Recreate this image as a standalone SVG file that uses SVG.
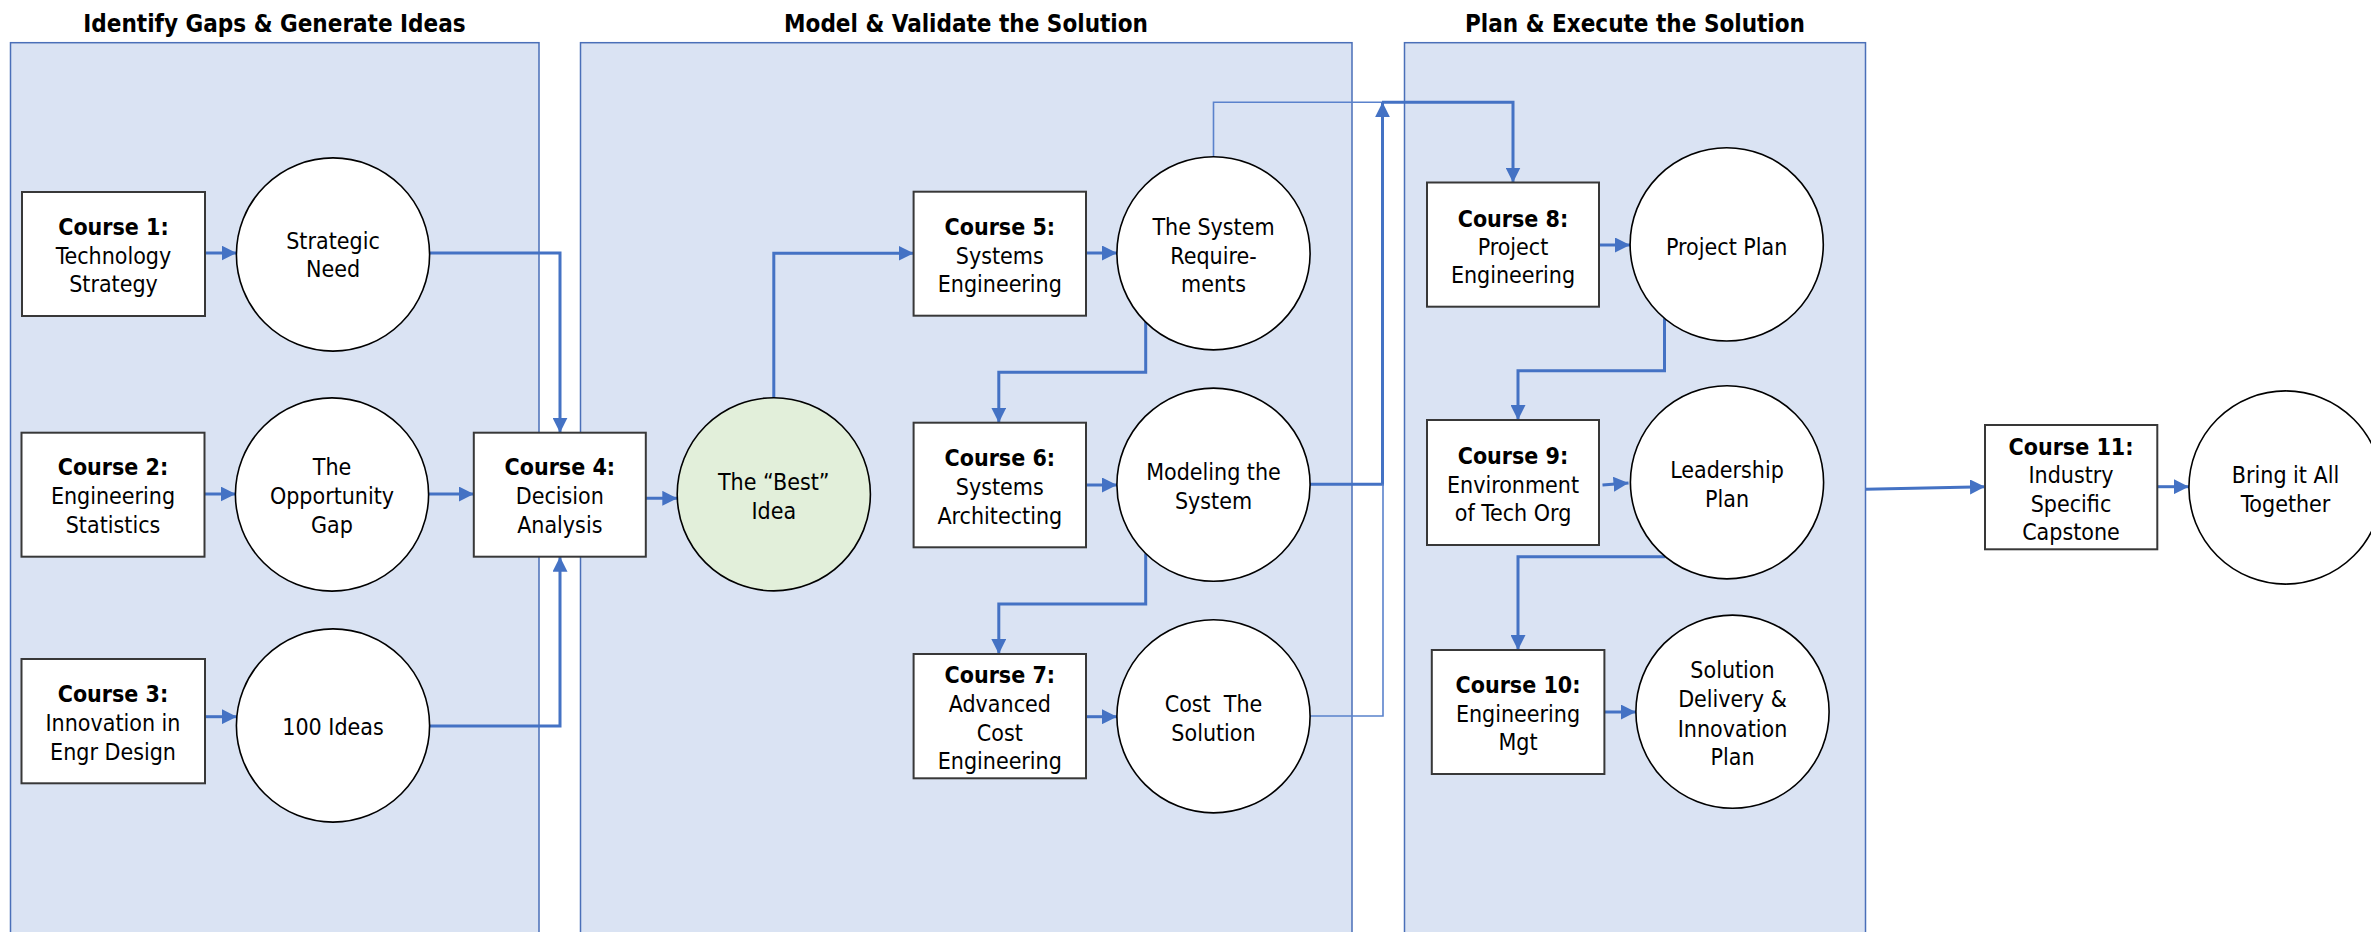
<svg xmlns="http://www.w3.org/2000/svg" width="2371" height="932" viewBox="0 0 2371 932">
<style>
  text { font-family: "DejaVu Sans Condensed", "DejaVu Sans", sans-serif; font-stretch: condensed; font-size: 23px; fill: #000; text-anchor: middle; }
  .title { font-size: 24px; font-weight: bold; }
  .b { font-weight: bold; }
  .panel { fill: #DAE3F3; stroke: #4a6fb8; stroke-width: 1.5; }
  .box { fill: #fff; stroke: #383838; stroke-width: 2; }
  .circ { fill: #fff; stroke: #000; stroke-width: 1.6; }
  .best { fill: #E2EFDA; stroke: #000; stroke-width: 1.6; }
  .c { fill: none; stroke: #4472C4; stroke-width: 3; }
  .thin { fill: none; stroke: #5a82cc; stroke-width: 1.6; }
</style>
<defs>
  <marker id="ah" markerUnits="userSpaceOnUse" markerWidth="15" markerHeight="15" refX="15" refY="7.5" orient="auto">
    <path d="M0,0 L15,7.5 L0,15 z" fill="#4472C4"/>
  </marker>
</defs>
<rect width="2371" height="932" fill="#fff"/>

<g id="panels">
  <g id="panel1">
    <rect class="panel" x="10.5" y="42.7" width="528.5" height="900"/>
    <text class="title" x="274.5" y="32">Identify Gaps &amp; Generate Ideas</text>
  </g>
  <g id="panel2">
    <rect class="panel" x="580.5" y="42.7" width="771.5" height="900"/>
    <text class="title" x="966" y="32">Model &amp; Validate the Solution</text>
  </g>
  <g id="panel3">
    <rect class="panel" x="1404.5" y="42.7" width="461" height="900"/>
    <text class="title" x="1635" y="32">Plan &amp; Execute the Solution</text>
  </g>
</g>

<g id="connectors">
  <line class="c" x1="205" y1="253" x2="236.5" y2="253" marker-end="url(#ah)"/>
  <line class="c" x1="204.5" y1="494" x2="235.7" y2="494" marker-end="url(#ah)"/>
  <line class="c" x1="205" y1="716.7" x2="236.8" y2="716.7" marker-end="url(#ah)"/>
  <path class="c" d="M429,253 H560 V432.7" marker-end="url(#ah)"/>
  <line class="c" x1="428" y1="494" x2="473.8" y2="494" marker-end="url(#ah)"/>
  <path class="c" d="M429.4,726 H560 V556.7" marker-end="url(#ah)"/>
  <line class="c" x1="645.7" y1="498.3" x2="677.3" y2="498.3" marker-end="url(#ah)"/>
  <path class="c" d="M773.8,397.7 V253.3 H913.6" marker-end="url(#ah)"/>
  <line class="c" x1="1086" y1="253" x2="1117" y2="253" marker-end="url(#ah)"/>
  <path class="c" d="M1145.7,322 V372.3 H998.8 V422.7" marker-end="url(#ah)"/>
  <line class="c" x1="1086" y1="485" x2="1117" y2="485" marker-end="url(#ah)"/>
  <path class="c" d="M1145.7,553.5 V604 H998.8 V654" marker-end="url(#ah)"/>
  <line class="c" x1="1086" y1="716.7" x2="1117" y2="716.7" marker-end="url(#ah)"/>
  <path class="thin" d="M1213.5,156.7 V102.3 H1382"/>
  <path class="c" d="M1382,102.3 H1513 V182.5" marker-end="url(#ah)"/>
  <path class="c" d="M1310,484.3 H1382.5 V102.3" marker-end="url(#ah)"/>
  <path class="thin" d="M1310,716 H1383 V484.3"/>
  <line class="c" x1="1599" y1="245" x2="1630" y2="245" marker-end="url(#ah)"/>
  <path class="c" d="M1664.5,318.3 V370.7 H1518 V420" marker-end="url(#ah)"/>
  <line class="c" x1="1602.5" y1="485" x2="1628.5" y2="483" marker-end="url(#ah)"/>
  <path class="c" d="M1665,556.7 H1518 V650" marker-end="url(#ah)"/>
  <line class="c" x1="1604.4" y1="712" x2="1635.8" y2="712" marker-end="url(#ah)"/>
  <line class="c" x1="1865.5" y1="489.3" x2="1985" y2="486.7" marker-end="url(#ah)"/>
  <line class="c" x1="2157.3" y1="486.7" x2="2188.8" y2="486.7" marker-end="url(#ah)"/>
</g>

<g id="course1">
  <rect class="box" x="22" y="192" width="183" height="124"/>
  <text x="113.5" y="235"><tspan class="b">Course 1:</tspan><tspan x="113.5" y="264">Technology</tspan><tspan x="113.5" y="292">Strategy</tspan></text>
</g>
<g id="strategic-need">
  <circle class="circ" cx="333" cy="254.5" r="96.6"/>
  <text x="333" y="249">Strategic<tspan x="333" y="277">Need</tspan></text>
</g>
<g id="course2">
  <rect class="box" x="21.5" y="432.7" width="183" height="124"/>
  <text x="113" y="475"><tspan class="b">Course 2:</tspan><tspan x="113" y="504">Engineering</tspan><tspan x="113" y="532.5">Statistics</tspan></text>
</g>
<g id="opportunity-gap">
  <circle class="circ" cx="332" cy="494.5" r="96.6"/>
  <text x="332" y="475">The<tspan x="332" y="504">Opportunity</tspan><tspan x="332" y="532.5">Gap</tspan></text>
</g>
<g id="course3">
  <rect class="box" x="21.5" y="659" width="183.5" height="124.3"/>
  <text x="113" y="701.5"><tspan class="b">Course 3:</tspan><tspan x="113" y="731">Innovation in</tspan><tspan x="113" y="760">Engr Design</tspan></text>
</g>
<g id="ideas100">
  <circle class="circ" cx="333" cy="725.5" r="96.6"/>
  <text x="333" y="735">100 Ideas</text>
</g>
<g id="course4">
  <rect class="box" x="473.8" y="432.7" width="172" height="124"/>
  <text x="559.8" y="475"><tspan class="b">Course 4:</tspan><tspan x="559.8" y="504">Decision</tspan><tspan x="559.8" y="532.5">Analysis</tspan></text>
</g>
<g id="best-idea">
  <circle class="best" cx="773.8" cy="494.3" r="96.6"/>
  <text x="773.8" y="490">The “Best”<tspan x="773.8" y="519">Idea</tspan></text>
</g>
<g id="course5">
  <rect class="box" x="913.6" y="191.7" width="172.4" height="124"/>
  <text x="999.8" y="235"><tspan class="b">Course 5:</tspan><tspan x="999.8" y="264">Systems</tspan><tspan x="999.8" y="292">Engineering</tspan></text>
</g>
<g id="requirements">
  <circle class="circ" cx="1213.5" cy="253.3" r="96.6"/>
  <text x="1213.5" y="235">The System<tspan x="1213.5" y="264">Require-</tspan><tspan x="1213.5" y="292">ments</tspan></text>
</g>
<g id="course6">
  <rect class="box" x="913.6" y="422.7" width="172.4" height="124.6"/>
  <text x="999.8" y="466"><tspan class="b">Course 6:</tspan><tspan x="999.8" y="495">Systems</tspan><tspan x="999.8" y="524">Architecting</tspan></text>
</g>
<g id="modeling">
  <circle class="circ" cx="1213.5" cy="484.7" r="96.6"/>
  <text x="1213.5" y="480">Modeling the<tspan x="1213.5" y="509">System</tspan></text>
</g>
<g id="course7">
  <rect class="box" x="913.6" y="654" width="172.4" height="124.3"/>
  <text x="999.8" y="683"><tspan class="b">Course 7:</tspan><tspan x="999.8" y="712">Advanced</tspan><tspan x="999.8" y="740.5">Cost</tspan><tspan x="999.8" y="769">Engineering</tspan></text>
</g>
<g id="cost">
  <circle class="circ" cx="1213.5" cy="716.3" r="96.6"/>
  <text x="1213.5" y="712">Cost&#160; The<tspan x="1213.5" y="740.5">Solution</tspan></text>
</g>
<g id="course8">
  <rect class="box" x="1427" y="182.5" width="172" height="124.2"/>
  <text x="1513" y="226.5"><tspan class="b">Course 8:</tspan><tspan x="1513" y="255">Project</tspan><tspan x="1513" y="283">Engineering</tspan></text>
</g>
<g id="project-plan">
  <circle class="circ" cx="1726.7" cy="244.4" r="96.6"/>
  <text x="1726.7" y="255">Project Plan</text>
</g>
<g id="course9">
  <rect class="box" x="1427" y="420" width="172" height="125"/>
  <text x="1513" y="464"><tspan class="b">Course 9:</tspan><tspan x="1513" y="492.5">Environment</tspan><tspan x="1513" y="521">of Tech Org</tspan></text>
</g>
<g id="leadership">
  <circle class="circ" cx="1727" cy="482.3" r="96.6"/>
  <text x="1727" y="478">Leadership<tspan x="1727" y="507">Plan</tspan></text>
</g>
<g id="course10">
  <rect class="box" x="1431.8" y="650" width="172.6" height="124"/>
  <text x="1518" y="693"><tspan class="b">Course 10:</tspan><tspan x="1518" y="722">Engineering</tspan><tspan x="1518" y="750">Mgt</tspan></text>
</g>
<g id="solution-plan">
  <circle class="circ" cx="1732.5" cy="711.7" r="96.6"/>
  <text x="1732.5" y="678">Solution<tspan x="1732.5" y="707">Delivery &amp;</tspan><tspan x="1732.5" y="736.5">Innovation</tspan><tspan x="1732.5" y="765">Plan</tspan></text>
</g>
<g id="course11">
  <rect class="box" x="1985" y="425" width="172.3" height="124.3"/>
  <text x="2071" y="455"><tspan class="b">Course 11:</tspan><tspan x="2071" y="483">Industry</tspan><tspan x="2071" y="511.5">Specific</tspan><tspan x="2071" y="540">Capstone</tspan></text>
</g>
<g id="bring-together">
  <circle class="circ" cx="2285.5" cy="487.5" r="96.6"/>
  <text x="2285.5" y="483">Bring it All<tspan x="2285.5" y="511.5">Together</tspan></text>
</g>
</svg>
